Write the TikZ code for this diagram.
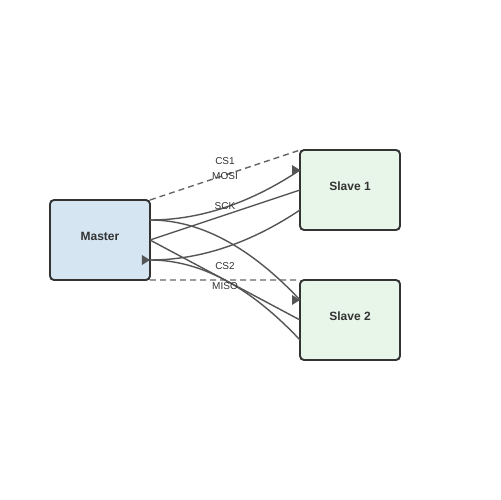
\documentclass[tikz,border=0pt]{standalone}
\usepackage{fontspec}
\setmainfont{Liberation Sans}
\usetikzlibrary{calc}
\definecolor{boxline}{HTML}{333333}
\definecolor{masterfill}{HTML}{D5E5F2}
\definecolor{slavefill}{HTML}{E8F5E9}
\definecolor{wire}{HTML}{555555}
\definecolor{dashwire}{HTML}{666666}
\definecolor{txt}{HTML}{333333}
\tikzset{
  devbox/.style={draw=boxline, line width=1.1pt, rounded corners=2.3pt,
    minimum width=2cm, minimum height=1.6cm, inner sep=0pt, outer sep=0pt,
    text height=4.9pt, text depth=4.56pt,
    text=txt, font=\fontsize{6.83pt}{8pt}\selectfont\bfseries},
  wirestyle/.style={draw=wire, line width=0.8pt},
  csstyle/.style={draw=dashwire, line width=0.8pt, dash pattern=on 3.4pt off 2.3pt},
  siglabel/.style={text=txt, inner sep=0pt, font=\fontsize{5.69pt}{6.5pt}\selectfont},
  tipfill/.style={fill=wire}
}
\begin{document}
\begin{tikzpicture}[x=0.02cm,y=-0.02cm]
\useasboundingbox (0,0) rectangle (500,500);
\fill[white] (0,0) rectangle (500,500);
% devices
\node[devbox, fill=masterfill] (m) at (100,240) {Master};
\node[devbox, fill=slavefill] (s1) at (350,190) {Slave 1};
\node[devbox, fill=slavefill] (s2) at (350,320) {Slave 2};
% connection points
\coordinate (m1) at ($(m.east)+(0,-20)$);
\coordinate (m3) at ($(m.east)+(0,20)$);
\coordinate (s1a) at ($(s1.west)+(0,-20)$);
\coordinate (s1c) at ($(s1.west)+(0,20)$);
\coordinate (s2a) at ($(s2.west)+(0,-20)$);
\coordinate (s2c) at ($(s2.west)+(0,20)$);
% wires
\draw[csstyle] (m.north east) -- (s1.north west);
\draw[csstyle] (m.south east) -- (s2.north west);
\draw[wirestyle] (m1) .. controls +(50,0) and +(-50,33.3) .. (s1a);
\draw[wirestyle] (m1) .. controls +(50,0) and +(-50,-53.3) .. (s2a);
\draw[wirestyle] (m.east) -- (s1.west);
\draw[wirestyle] (m.east) -- (s2.west);
\draw[wirestyle] (m3) .. controls +(50,0) and +(-50,33.3) .. (s1c);
\draw[wirestyle] (m3) .. controls +(50,0) and +(-50,-53.3) .. (s2c);
% arrowheads
\fill[tipfill] (s1a) -- ++(-8,-5) -- ++(0,10) -- cycle;
\fill[tipfill] (s2a) -- ++(-8,-5) -- ++(0,10) -- cycle;
\fill[tipfill] (m3) -- ++(-8,-5) -- ++(0,10) -- cycle;
% labels
\node[siglabel] (lcs1) at (225,161.5) {CS1};
\node[siglabel] (lmosi) at (225,176.5) {MOSI};
\node[siglabel] (lsck) at (225,206.5) {SCK};
\node[siglabel] (lcs2) at (225,266.5) {CS2};
\node[siglabel] (lmiso) at (225,286.5) {MISO};
\end{tikzpicture}
\end{document}
